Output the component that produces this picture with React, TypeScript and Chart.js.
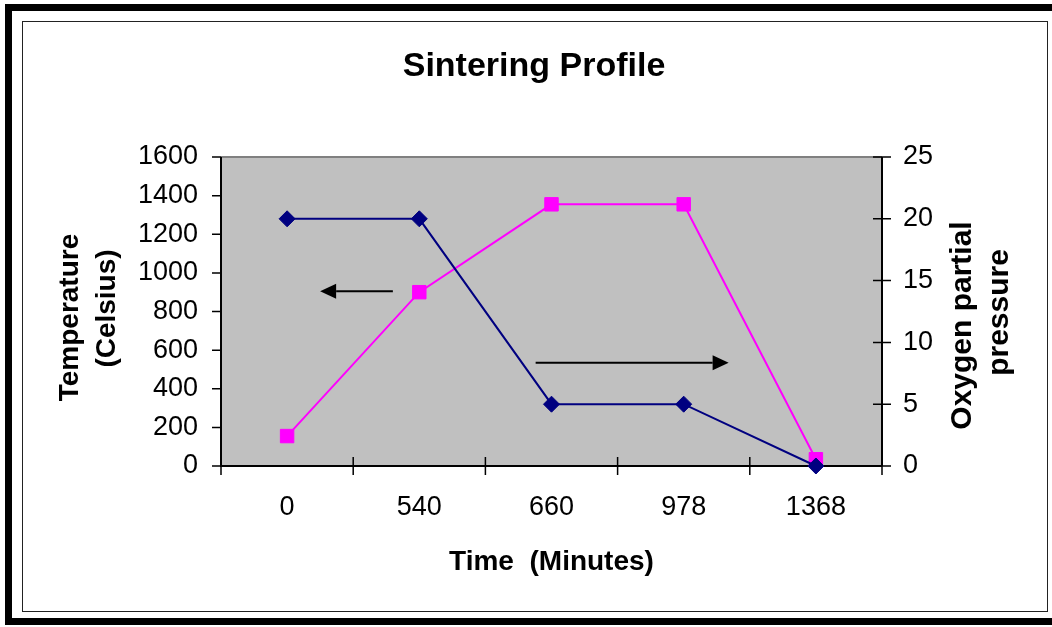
import React, { useEffect, useRef } from "react";
import { Chart, registerables } from "chart.js";

Chart.register(...registerables);

const categories = ["0", "540", "660", "978", "1368"];
const temperature = [155, 900, 1355, 1355, 35];
const oxygen = [20, 20, 5, 5, 0];
const tempTicks = { min: 0, max: 1600, step: 200 };
const oxyTicks = { min: 0, max: 25, step: 5 };
const titleText = "Sintering Profile";
const xTitle = "Time  (Minutes)";
const leftTitle = ["Temperature", "(Celsius)"];
const rightTitle = ["Oxygen partial", "pressure"];
// arrow annotations in data units
const leftArrow = { from: 0.8, to: 0.25, value: 905, axis: "y" };
const rightArrow = { from: 1.88, to: 3.34, value: 8.35, axis: "y1" };

const FONT = "'Liberation Sans', Arial, sans-serif";

const decorPlugin = {
  id: "decor",
  beforeDraw(chart: any) {
    const { ctx, chartArea: a } = chart;
    ctx.save();
    ctx.fillStyle = "#C0C0C0";
    ctx.fillRect(a.left, a.top, a.right - a.left, a.bottom - a.top);
    ctx.restore();
  },
  beforeDatasetsDraw(chart: any) {
    const { ctx, chartArea: a, scales } = chart;
    ctx.save();
    ctx.strokeStyle = "#808080";
    ctx.lineWidth = 2;
    ctx.beginPath();
    ctx.moveTo(a.left, a.top);
    ctx.lineTo(a.right, a.top);
    ctx.stroke();
    ctx.strokeStyle = "#000";
    ctx.lineWidth = 2;
    ctx.beginPath();
    ctx.moveTo(a.left, a.top);
    ctx.lineTo(a.left, a.bottom);
    ctx.lineTo(a.right, a.bottom);
    ctx.moveTo(a.right, a.top);
    ctx.lineTo(a.right, a.bottom);
    ctx.stroke();
    ctx.lineWidth = 1.5;
    ctx.beginPath();
    const y = scales.y;
    for (let v = tempTicks.min; v <= tempTicks.max; v += tempTicks.step) {
      const p = y.getPixelForValue(v);
      ctx.moveTo(a.left - 9, p);
      ctx.lineTo(a.left, p);
    }
    const y1 = scales.y1;
    for (let v = oxyTicks.min; v <= oxyTicks.max; v += oxyTicks.step) {
      const p = y1.getPixelForValue(v);
      ctx.moveTo(a.right - 9, p);
      ctx.lineTo(a.right + 9, p);
    }
    const x = scales.x;
    for (let i = 0; i <= categories.length; i++) {
      const p = x.getPixelForValue(i - 0.5);
      ctx.moveTo(p, a.bottom - 9);
      ctx.lineTo(p, a.bottom + 9);
    }
    ctx.stroke();
    ctx.restore();
  },
  afterDatasetsDraw(chart: any) {
    const { ctx, scales } = chart;
    ctx.save();
    ctx.strokeStyle = "#000";
    ctx.fillStyle = "#000";
    ctx.lineWidth = 2;
    for (const ar of [leftArrow, rightArrow]) {
      const x0 = scales.x.getPixelForValue(ar.from);
      const x1 = scales.x.getPixelForValue(ar.to);
      const yy = scales[ar.axis].getPixelForValue(ar.value);
      const dir = Math.sign(x1 - x0);
      const headLen = 16;
      ctx.beginPath();
      ctx.moveTo(x0, yy);
      ctx.lineTo(x1 - dir * headLen, yy);
      ctx.stroke();
      ctx.beginPath();
      ctx.moveTo(x1, yy);
      ctx.lineTo(x1 - dir * headLen, yy - 7.5);
      ctx.lineTo(x1 - dir * headLen, yy + 7.5);
      ctx.closePath();
      ctx.fill();
    }
    ctx.restore();
  },
  afterDraw(chart: any) {
    const { ctx, chartArea: a } = chart;
    ctx.save();
    ctx.fillStyle = "#000";
    ctx.textAlign = "center";
    ctx.textBaseline = "alphabetic";
    ctx.font = `bold 34px ${FONT}`;
    ctx.fillText(titleText, 534, 76);
    ctx.font = `bold 28px ${FONT}`;
    ctx.fillText(xTitle, (a.left + a.right) / 2, 570);
    const cy = (a.top + a.bottom) / 2;
    const drawRot = (text: string, bx: number, cyy: number) => {
      ctx.save();
      ctx.translate(bx, cyy);
      ctx.rotate(-Math.PI / 2);
      ctx.fillText(text, 0, 0);
      ctx.restore();
    };
    drawRot(leftTitle[0], 78, cy + 6);
    drawRot(leftTitle[1], 115, cy - 3);
    ctx.font = `bold 30px ${FONT}`;
    drawRot(rightTitle[0], 971, cy + 14);
    drawRot(rightTitle[1], 1008, cy + 1);
    ctx.restore();
  },
};

export default function App() {
  const ref = useRef<HTMLCanvasElement | null>(null);
  useEffect(() => {
    if (!ref.current) return;
    const chart = new Chart(ref.current, {
      type: "line",
      data: {
        labels: categories,
        datasets: [
          {
            label: "Oxygen partial pressure",
            data: oxygen,
            yAxisID: "y1",
            borderColor: "#000080",
            backgroundColor: "#000080",
            pointBackgroundColor: "#000080",
            pointBorderColor: "#000080",
            pointStyle: "rectRot",
            pointRadius: 8,
            pointBorderWidth: 1,
            borderWidth: 2,
            tension: 0,
            clip: false,
            order: 0,
          },
          {
            label: "Temperature (Celsius)",
            data: temperature,
            yAxisID: "y",
            borderColor: "#FF00FF",
            backgroundColor: "#FF00FF",
            pointBackgroundColor: "#FF00FF",
            pointBorderColor: "#FF00FF",
            pointStyle: "rect",
            pointRadius: 9.5,
            pointBorderWidth: 1,
            borderWidth: 2,
            tension: 0,
            clip: false,
            order: 1,
          },
        ],
      },
      options: {
        responsive: false,
        animation: false,
        devicePixelRatio: 1,
        layout: { padding: { top: 157, left: 0, right: 0, bottom: 0 } },
        plugins: {
          legend: { display: false },
          title: { display: false },
          tooltip: { enabled: false },
        },
        scales: {
          x: {
            type: "category",
            offset: true,
            grid: { display: false, drawTicks: false, offset: true },
            border: { display: false },
            ticks: {
              color: "#000",
              font: { family: FONT, size: 27 },
              padding: 25,
              maxRotation: 0,
            },
            afterFit: (s: any) => {
              s.height = 627 - 466;
            },
          },
          y: {
            position: "left",
            min: tempTicks.min,
            max: tempTicks.max,
            grid: { display: false, drawTicks: false },
            border: { display: false },
            ticks: {
              stepSize: tempTicks.step,
              color: "#000",
              font: { family: FONT, size: 27 },
              padding: 23,
              callback: (v: any) => String(v),
            },
            afterFit: (s: any) => {
              s.width = 221;
            },
          },
          y1: {
            position: "right",
            min: oxyTicks.min,
            max: oxyTicks.max,
            grid: { display: false, drawTicks: false },
            border: { display: false },
            ticks: {
              stepSize: oxyTicks.step,
              color: "#000",
              font: { family: FONT, size: 27 },
              padding: 21,
              callback: (v: any) => String(v),
            },
            afterFit: (s: any) => {
              s.width = 1052 - 882;
            },
          },
        },
      },
      plugins: [decorPlugin],
    } as any);
    return () => chart.destroy();
  }, []);

  return (
    <div
      style={{
        position: "fixed",
        left: 0,
        top: 0,
        width: 1052,
        height: 627,
        overflow: "hidden",
        background: "#fff",
      }}
    >
      <div
        style={{
          position: "absolute",
          left: 5,
          top: 4,
          width: 1100,
          height: 621,
          border: "7px solid #000",
          boxSizing: "border-box",
        }}
      />
      <div
        style={{
          position: "absolute",
          left: 22,
          top: 21,
          width: 1026,
          height: 591,
          border: "1px solid #222",
          boxSizing: "border-box",
        }}
      />
      <canvas
        ref={ref}
        width={1052}
        height={627}
        style={{ position: "absolute", left: 0, top: 0, width: 1052, height: 627 }}
      />
    </div>
  );
}
